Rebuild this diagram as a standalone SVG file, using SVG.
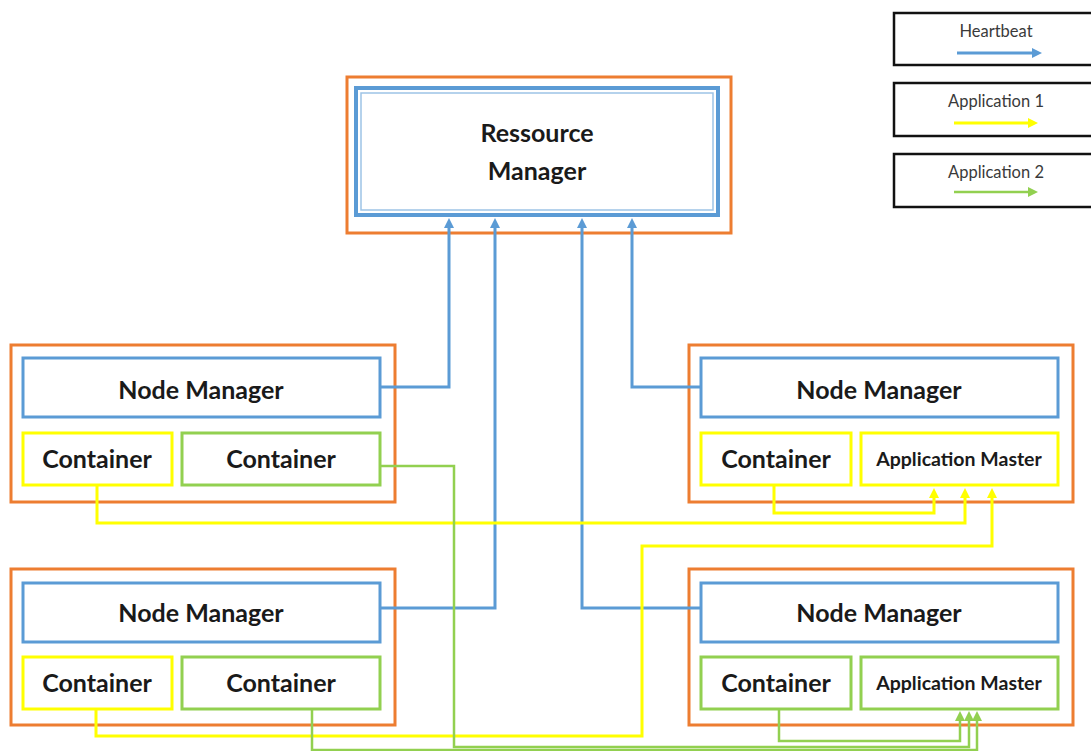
<svg xmlns="http://www.w3.org/2000/svg" width="1091" height="751" viewBox="0 0 1091 751">
<defs>
<style>
.org{fill:none;stroke:#ED7D31;stroke-width:3}
.nm{fill:#fff;stroke:#5B9BD5;stroke-width:3}
.cy{fill:#fff;stroke:#FFFF00;stroke-width:3}
.cg{fill:#fff;stroke:#92D050;stroke-width:3}
.lg{fill:#fff;stroke:#111;stroke-width:2.5}
.t{font-family:Lato,"Open Sans","Liberation Sans",sans-serif;font-weight:bold;fill:#1a1a1a;text-anchor:middle}
.big{font-size:25px}
.am{font-size:19.5px}
.leg{font-family:Lato,"Open Sans","Liberation Sans",sans-serif;font-size:16.5px;fill:#3a3a3a;text-anchor:middle}
.hb{fill:none;stroke:#5B9BD5;stroke-width:3}
.y{fill:none;stroke:#FFFF00;stroke-width:3}
.g{fill:none;stroke:#92D050;stroke-width:2.5}
</style>
<marker id="ab" markerUnits="userSpaceOnUse" markerWidth="10" markerHeight="10" viewBox="0 0 10 10" refX="0" refY="5" orient="auto"><path d="M0,0 L10,5 L0,10 z" fill="#5B9BD5"/></marker>
<marker id="ay" markerUnits="userSpaceOnUse" markerWidth="10" markerHeight="10" viewBox="0 0 10 10" refX="0" refY="5" orient="auto"><path d="M0,0 L10,5 L0,10 z" fill="#FFFF00"/></marker>
<marker id="ag" markerUnits="userSpaceOnUse" markerWidth="10" markerHeight="10" viewBox="0 0 10 10" refX="0" refY="5" orient="auto"><path d="M0,0 L10,5 L0,10 z" fill="#92D050"/></marker>
</defs>
<rect width="1091" height="751" fill="#fff"/>

<g id="legend">
<rect class="lg" x="894" y="13" width="210" height="52"/>
<text class="leg" x="996" y="37">Heartbeat</text>
<path class="hb" d="M957,53 H1032" marker-end="url(#ab)"/>
<rect class="lg" x="894" y="83" width="210" height="53"/>
<text class="leg" x="996" y="107">Application 1</text>
<path class="y" d="M954,123 H1028" marker-end="url(#ay)"/>
<rect class="lg" x="894" y="154" width="210" height="53"/>
<text class="leg" x="996" y="178">Application 2</text>
<path class="g" d="M954,192 H1028" marker-end="url(#ag)"/>
</g>

<g id="resource-manager">
<rect class="org" x="347" y="77" width="384" height="156"/>
<rect x="356" y="88" width="362" height="127" fill="#fff" stroke="#5B9BD5" stroke-width="4"/>
<rect x="361" y="93" width="352" height="117" fill="none" stroke="#9DC3E6" stroke-width="1.5"/>
<text class="t big" x="537" y="142">Ressource</text>
<text class="t big" x="537" y="180">Manager</text>
</g>

<g id="node-top-left">
<rect class="org" x="11" y="345" width="384" height="157"/>
<rect class="nm" x="23" y="358" width="357" height="59"/>
<text class="t big" x="201" y="399">Node Manager</text>
<rect class="cy" x="23" y="433" width="149" height="52"/>
<text class="t big" x="97" y="468">Container</text>
<rect class="cg" x="182" y="433" width="198" height="52"/>
<text class="t big" x="281" y="468">Container</text>
</g>

<g id="node-top-right">
<rect class="org" x="689" y="345" width="384" height="157"/>
<rect class="nm" x="701" y="358" width="357" height="59"/>
<text class="t big" x="879" y="399">Node Manager</text>
<rect class="cy" x="701" y="433" width="150" height="52"/>
<text class="t big" x="776" y="468">Container</text>
<rect class="cy" x="861" y="433" width="197" height="52"/>
<text class="t am" x="959" y="466">Application Master</text>
</g>

<g id="node-bottom-left">
<rect class="org" x="11" y="569" width="384" height="156"/>
<rect class="nm" x="23" y="583" width="357" height="59"/>
<text class="t big" x="201" y="622">Node Manager</text>
<rect class="cy" x="23" y="657" width="149" height="52"/>
<text class="t big" x="97" y="692">Container</text>
<rect class="cg" x="182" y="657" width="198" height="52"/>
<text class="t big" x="281" y="692">Container</text>
</g>

<g id="node-bottom-right">
<rect class="org" x="689" y="569" width="384" height="156"/>
<rect class="nm" x="701" y="583" width="357" height="59"/>
<text class="t big" x="879" y="622">Node Manager</text>
<rect class="cg" x="701" y="657" width="150" height="52"/>
<text class="t big" x="776" y="692">Container</text>
<rect class="cg" x="861" y="657" width="197" height="52"/>
<text class="t am" x="959" y="690">Application Master</text>
</g>

<g id="connectors">
<path class="hb" d="M380,387 H449 V228" marker-end="url(#ab)"/>
<path class="hb" d="M380,608 H495 V228" marker-end="url(#ab)"/>
<path class="hb" d="M701,608 H582 V228" marker-end="url(#ab)"/>
<path class="hb" d="M701,387 H632 V228" marker-end="url(#ab)"/>
<path class="y" d="M97,485 V523 H965 V498" marker-end="url(#ay)"/>
<path class="y" d="M774,485 V513 H934 V498" marker-end="url(#ay)"/>
<path class="y" d="M96,709 V736 H642 V546 H992 V498" marker-end="url(#ay)"/>
<path class="g" d="M380,466 H454 V747 H969 V721" marker-end="url(#ag)"/>
<path class="g" d="M779,709 V741 H960 V721" marker-end="url(#ag)"/>
<path class="g" d="M312,709 V750 H977 V721" marker-end="url(#ag)"/>
</g>
</svg>
